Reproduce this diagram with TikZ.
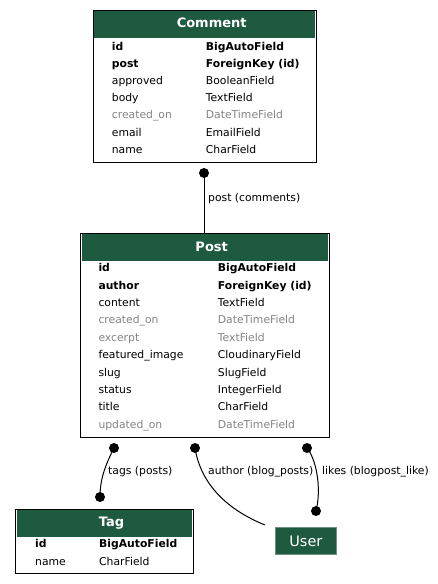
\documentclass[tikz,border=0pt]{standalone}
\usepackage{fontspec}
\setmainfont{DejaVu Sans}
\definecolor{hdrgreen}{HTML}{1E5A40}
\definecolor{userborder}{HTML}{6E9282}
\definecolor{dimtxt}{HTML}{858585}
\tikzset{
  tblbox/.style={draw=black,line width=1pt,fill=white,inner sep=0pt,outer sep=0pt,anchor=north west},
  hdrbox/.style={fill=hdrgreen,inner sep=0pt,outer sep=0pt,anchor=north west},
  titletxt/.style={text=white,inner sep=0pt,anchor=base,font=\fontsize{13}{15}\selectfont\bfseries},
  fld/.style={inner sep=0pt,anchor=base west,font=\fontsize{10.8}{12}\selectfont},
  keyf/.style={font=\fontsize{10.8}{12}\selectfont\bfseries},
  dimf/.style={text=dimtxt},
  plainf/.style={},
  lbl/.style={inner sep=0pt,anchor=base west,font=\fontsize{10.8}{12}\selectfont},
  dotn/.style={circle,fill=black,inner sep=0pt,minimum size=10pt},
  conn/.style={line width=1pt,black},
  userbox/.style={fill=hdrgreen,draw=userborder,line width=0.8pt,inner sep=0pt,anchor=north west,
    text=white,font=\fontsize{14.5}{16}\selectfont}
}
\begin{document}
\begin{tikzpicture}[x=1pt,y=-1pt]
\useasboundingbox (0,0) rectangle (437,584);

% ---------- Comment ----------
\node[tblbox,minimum width=223pt,minimum height=152pt] (comment) at (93,10) {};
\node[hdrbox,minimum width=220.5pt,minimum height=27pt] (commenthdr) at (94.3,11.3) {};
\node[titletxt] (commentttl) at (211.7,27.5) {Comment};
\foreach [count=\i from 0] \n/\t/\s in {id/BigAutoField/keyf,post/ForeignKey (id)/keyf,approved/BooleanField/plainf,body/TextField/plainf,created\_on/DateTimeField/dimf,email/EmailField/plainf,name/CharField/plainf}{
  \node[fld,\s] (cn\i) at (111.7,{50+17.2*\i}) {\n};
  \node[fld,\s] (ct\i) at (205.7,{50+17.2*\i}) {\t};
}

% ---------- Post ----------
\node[tblbox,minimum width=248.5pt,minimum height=204pt] (post) at (80.7,233) {};
\node[hdrbox,minimum width=246pt,minimum height=27pt] (posthdr) at (82,234.3) {};
\node[titletxt] (postttl) at (211.7,251) {Post};
\foreach [count=\i from 0] \n/\t/\s in {id/BigAutoField/keyf,author/ForeignKey (id)/keyf,content/TextField/plainf,created\_on/DateTimeField/dimf,excerpt/TextField/dimf,featured\_image/CloudinaryField/plainf,slug/SlugField/plainf,status/IntegerField/plainf,title/CharField/plainf,updated\_on/DateTimeField/dimf}{
  \node[fld,\s] (pn\i) at (98.3,{271.7+17.4*\i}) {\n};
  \node[fld,\s] (pt\i) at (217.7,{271.7+17.4*\i}) {\t};
}

% ---------- Tag ----------
\node[tblbox,minimum width=178pt,minimum height=64pt] (tag) at (15.3,509) {};
\node[hdrbox,minimum width=175.5pt,minimum height=27pt] (taghdr) at (16.6,510.3) {};
\node[titletxt] (tagttl) at (111.5,526.7) {Tag};
\foreach [count=\i from 0] \n/\t/\s in {id/BigAutoField/keyf,name/CharField/plainf}{
  \node[fld,\s] (tn\i) at (35,{547.3+17.7*\i}) {\n};
  \node[fld,\s] (tt\i) at (99,{547.3+17.7*\i}) {\t};
}

% ---------- User ----------
\node[userbox,minimum width=61pt,minimum height=27pt] (user) at (275,527) {User};

% ---------- connectors ----------
\node[dotn] (cdot) at (204,173) {};
\draw[conn] (cdot.center) -- (cdot |- post.north);
\node[lbl] (clbl) at (208,201) {post (comments)};

\node[dotn] (tdot1) at (114,448) {};
\node[dotn] (tdot2) at (100,497) {};
\draw[conn] (tdot1.center) .. controls (106,464) and (100,478) .. (tdot2.center);
\node[lbl] (tlbl) at (108,474) {tags (posts)};

\node[dotn] (adot) at (195,448) {};
\coordinate (aend) at (265,525);
\draw[conn] (adot.center) .. controls (201,485) and (228,510) .. (aend);
\node[lbl] (albl) at (208,474) {author (blog\_posts)};

\node[dotn] (ldot1) at (307,448) {};
\node[dotn] (ldot2) at (316,511) {};
\draw[conn] (ldot1.center) .. controls (318,462) and (321,492) .. (ldot2.center);
\node[lbl] (llbl) at (322,474) {likes (blogpost\_like)};
\end{tikzpicture}
\end{document}
